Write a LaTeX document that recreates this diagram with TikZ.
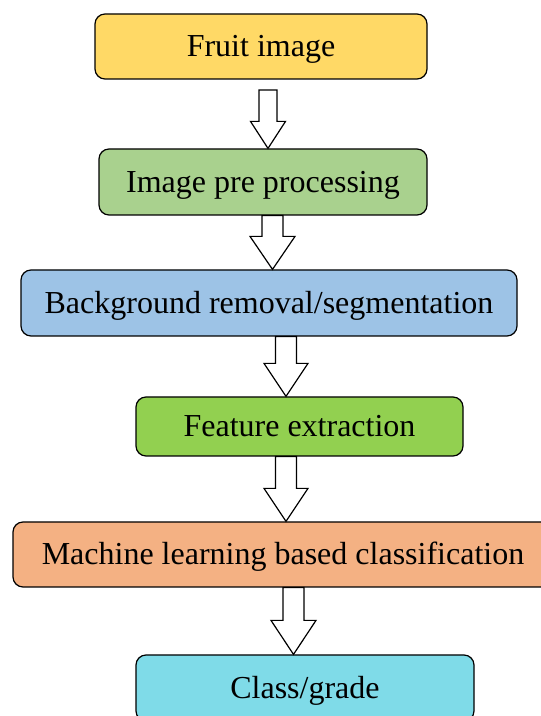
\documentclass[tikz,border=0pt]{standalone}
\usepackage{fontspec}
\setmainfont{Liberation Serif}
\usetikzlibrary{calc}
\definecolor{fruitYellow}{RGB}{255,217,102}
\definecolor{prepGreen}{RGB}{169,209,142}
\definecolor{segmBlue}{RGB}{157,195,230}
\definecolor{featGreen}{RGB}{146,208,80}
\definecolor{classOrange}{RGB}{244,177,131}
\definecolor{gradeCyan}{RGB}{127,219,232}

% hollow block arrow: start point, end point, x, shaft half, head half, head length
\newcommand{\hollowarrow}[6]{%
  \draw[arrowline] let \p1 = #1, \p2 = #2 in
    ({#3pt-#4pt},\y1) -- ({#3pt+#4pt},\y1) -- ({#3pt+#4pt},\y2+#6pt)
    -- ({#3pt+#5pt},\y2+#6pt) -- (#3pt,\y2) -- ({#3pt-#5pt},\y2+#6pt)
    -- ({#3pt-#4pt},\y2+#6pt) -- cycle;}

\begin{document}
\begin{tikzpicture}[x=1pt, y=1pt,
    stage/.style={draw, line width=1.2pt, rounded corners=10pt, inner sep=0pt,
      font=\fontsize{32}{35}\selectfont, text height=21pt, text depth=0pt},
    arrowline/.style={draw, fill=white, line width=1.2pt, line join=miter}]
        \useasboundingbox (0,0) rectangle (541,716);
        \clip (0,0) rectangle (541,716);
        % stages
        \node[stage, fill=fruitYellow, minimum width=332pt, minimum height=65pt] (fruit) at (261,669.5) {Fruit image};
        \node[stage, fill=prepGreen, minimum width=328pt, minimum height=66pt] (prep) at (263,534) {Image pre processing};
        \node[stage, fill=segmBlue, minimum width=496pt, minimum height=66pt] (segm) at (269,413) {Background removal/segmentation};
        \node[stage, fill=featGreen, minimum width=327pt, minimum height=59pt] (feat) at (299.5,289.5) {Feature extraction};
        \node[stage, fill=classOrange, minimum width=540pt, minimum height=65pt] (classif) at (283,161.5) {Machine learning based classification};
        \node[stage, fill=gradeCyan, minimum width=338pt, minimum height=66pt] (grade) at (305,28) {Class/grade};
        % arrows
        \coordinate (fruitgap) at (268,626);
        \hollowarrow{(fruitgap)}{(prep.north)}{268}{9}{17.5}{27}
        \hollowarrow{(prep.south)}{(segm.north)}{272.5}{10.5}{22.5}{33}
        \hollowarrow{(segm.south)}{(feat.north)}{286}{10.5}{22}{33}
        \hollowarrow{(feat.south)}{(classif.north)}{286}{10.5}{22}{33}
        \hollowarrow{(classif.south)}{(grade.north)}{293.5}{10.5}{22.5}{34}
      \end{tikzpicture}
\end{document}
